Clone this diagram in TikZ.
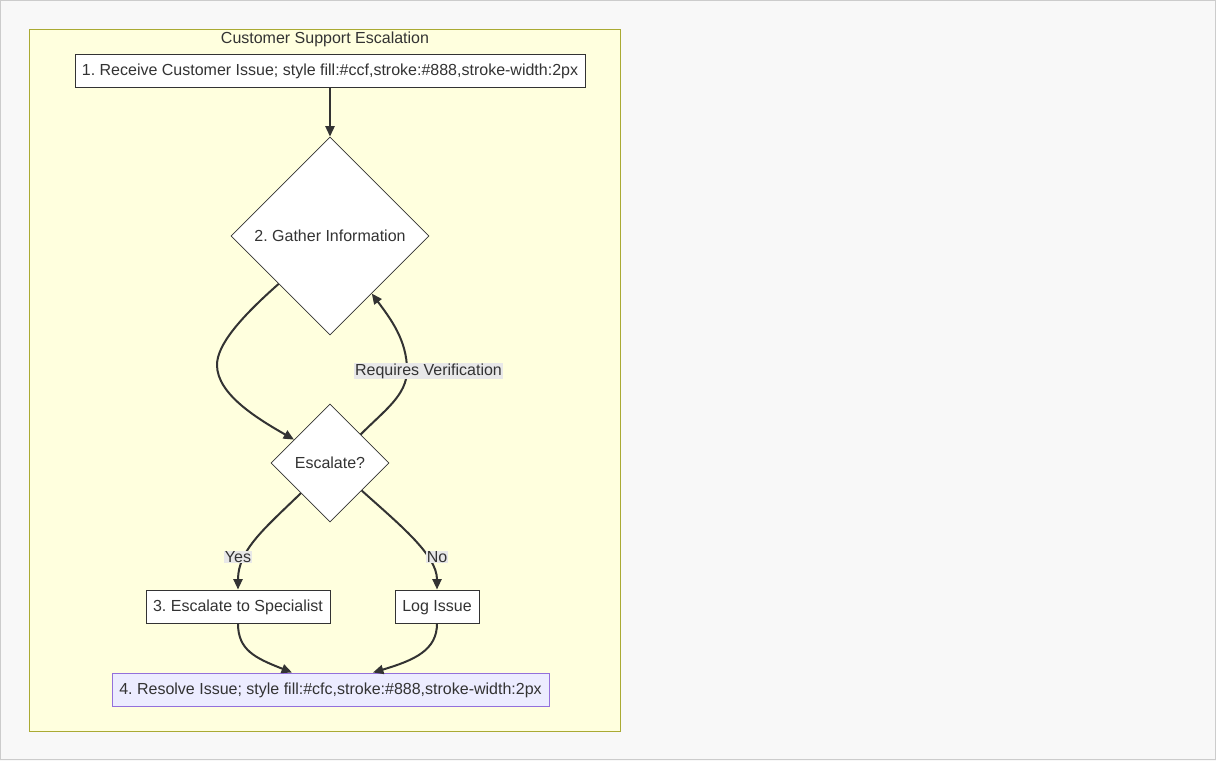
\documentclass[tikz,border=0pt]{standalone}
\usepackage{fontspec}
\setmainfont{Liberation Sans}
\usetikzlibrary{shapes.geometric,arrows.meta,calc}
\frenchspacing
\definecolor{txt}{HTML}{333333}
\definecolor{pagebg}{HTML}{F8F8F8}
\definecolor{pageline}{HTML}{CCCCCC}
\definecolor{clusterbg}{HTML}{FFFFDE}
\definecolor{clusterline}{HTML}{AAAA33}
\definecolor{lblbg}{HTML}{E8E8E8}
\definecolor{resfill}{HTML}{ECECFF}
\definecolor{resline}{HTML}{9370DB}
\tikzset{
  basefont/.style={font=\fontsize{12pt}{14pt}\selectfont\frenchspacing, text=txt},
  box/.style={basefont, draw=txt, fill=white, line width=0.75pt, inner sep=0pt, minimum height=24.75pt, text height=9pt, text depth=1.2pt},
  dia/.style={basefont, diamond, aspect=1, draw=txt, fill=white, line width=0.6pt, inner sep=0pt, text height=9pt, text depth=1.2pt},
  edge/.style={draw=txt, line width=1.5pt, -{Triangle[length=7.8pt,width=6.8pt]}},
  elabel/.style={basefont, fill=lblbg, inner sep=0.6pt}
}
\begin{document}
\begin{tikzpicture}[x=0.75pt,y=-0.75pt]
\useasboundingbox (0,0) rectangle (1216,761);
\fill[pagebg] (0,0) rectangle (1216,761);
\draw[pageline, line width=0.75pt] (0.5,0.5) rectangle (1215.5,759.5);
\draw[clusterline, fill=clusterbg, line width=0.75pt] (29,29) rectangle (620,731);
\node[basefont] (title) at (325,39.5) {Customer Support Escalation};

\node[box, minimum width=382.5pt] (A) at (330,70.5) {1. Receive Customer Issue; style fill:\#ccf,stroke:\#888,stroke-width:2px};
\node[dia, minimum width=148.5pt, minimum height=148.5pt] (B) at (330,236) {2. Gather Information};
\node[dia, minimum width=88.5pt, minimum height=88.5pt] (C) at (330,463) {Escalate?};
\node[box, minimum width=138pt] (D) at (238,606.5) {3. Escalate to Specialist};
\node[box, minimum width=63pt] (E) at (437,606.5) {Log Issue};
\node[box, draw=resline, fill=resfill, minimum width=327.75pt] (F) at (330.5,689.5) {4. Resolve Issue; style fill:\#cfc,stroke:\#888,stroke-width:2px};

\draw[edge] (A.south) -- (B.north);
\draw[edge] (B.223) .. controls (240,318) and (217,345) .. (217,365) .. controls (217,395) and (260,420) .. (C.147);
\draw[edge] (C.43) .. controls (385,410) and (407,395) .. (407,370) .. controls (407,340) and (390,318) .. (B.306);
\node[elabel] (lv) at (428.5,371) {Requires Verification};
\draw[edge] (C.226) .. controls (265,528) and (238,550) .. (D.north);
\node[elabel] (ly) at (238,557) {Yes};
\draw[edge] (C.319) .. controls (400,525) and (437,555) .. (E.north);
\node[elabel] (ln) at (437,557) {No};
\draw[edge] (D.south) .. controls (238,650) and (255,658) .. ($(F.north)+(-38.5,0)$);
\draw[edge] (E.south) .. controls (437,650) and (415,660) .. ($(F.north)+(42.5,0)$);
\end{tikzpicture}
\end{document}
